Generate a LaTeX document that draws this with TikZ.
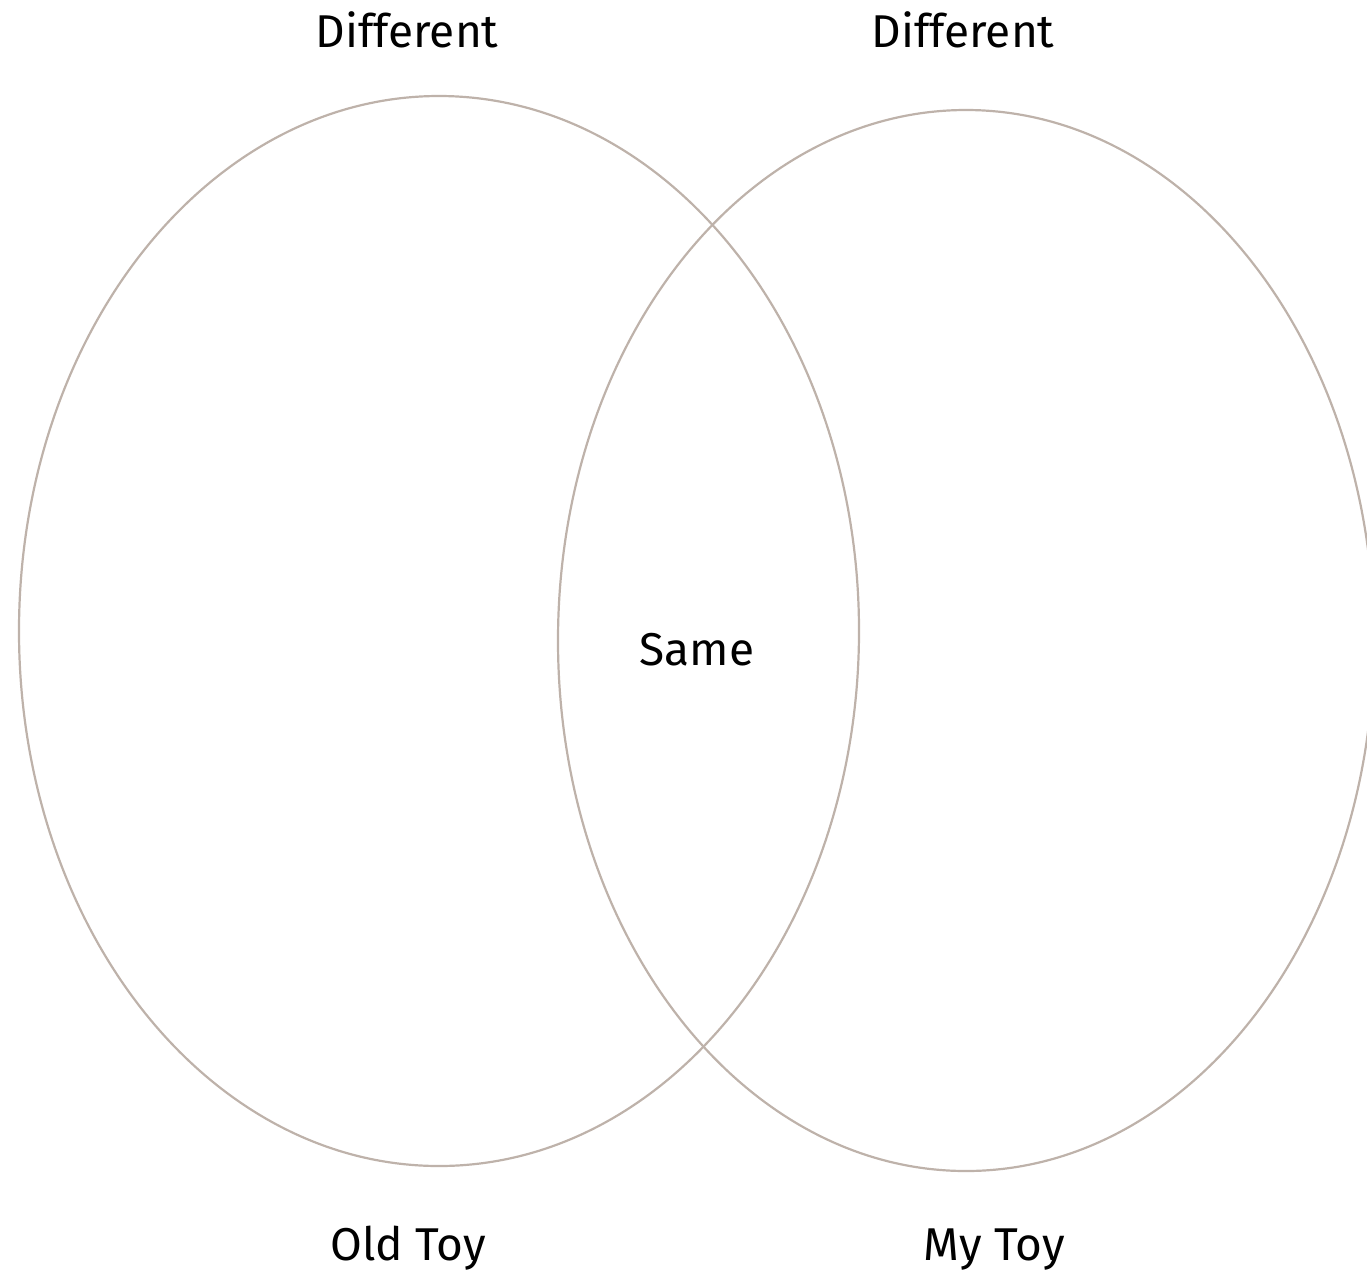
\documentclass[tikz,border=0pt]{standalone}
\usepackage{fontspec}
\setmainfont{Fira Sans}
\usepackage{tikz}
\usetikzlibrary{positioning,shapes.geometric}
\definecolor{ringc}{RGB}{190,178,170}

\begin{document}
\begin{tikzpicture}[
  x=1pt, y=-1pt,
  every node/.style={font=\fontsize{46}{54}\selectfont},
  ring/.style={ellipse, draw=ringc, line width=2.2pt, inner sep=0pt, outer sep=0pt},
  tag/.style={anchor=base, inner sep=0pt}
]
\useasboundingbox (0,0) rectangle (1367,1272);
% Two overlapping sets
\node[ring, minimum width=840pt, minimum height=1070pt] (oldset) at (439,631) {};
\node[ring, minimum width=816pt, minimum height=1061pt] (myset) at (966,640.5) {};
% Labels
\node[tag] (diffl) at (407,47) {Different};
\node[tag] (diffr) at (963,47) {Different};
\node[tag] (same) at (697,665) {Same};
\node[tag] (oldtoy) at (408,1260) {Old Toy};
\node[tag] (mytoy) at (994,1260) {My Toy};
\end{tikzpicture}
\end{document}
